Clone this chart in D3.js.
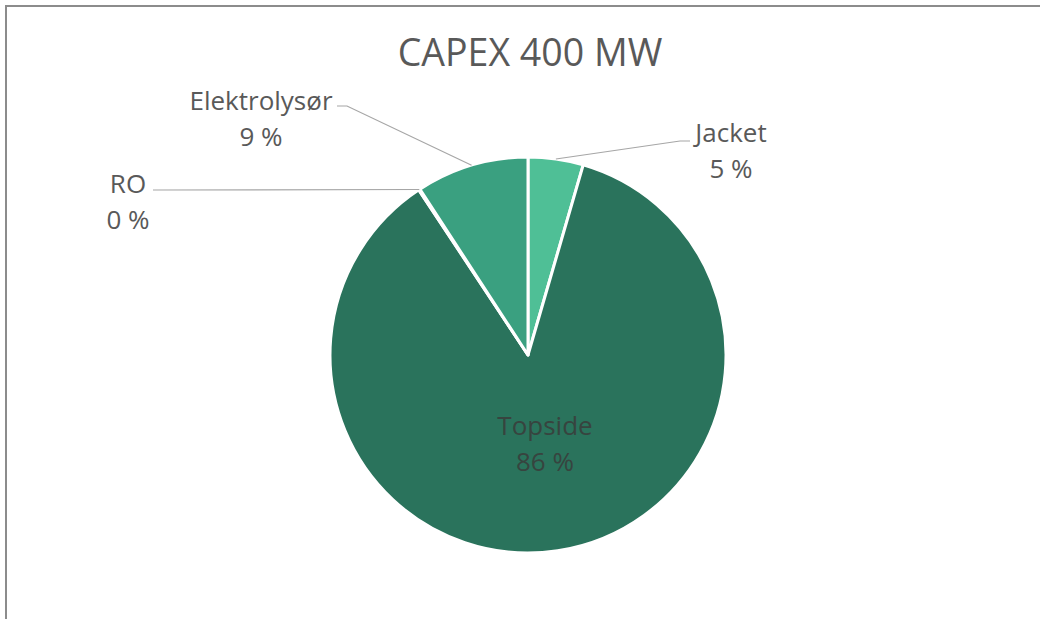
<!DOCTYPE html>
<html>
<head>
<meta charset="utf-8">
<script src="https://cdn.jsdelivr.net/npm/d3@7"></script>
<style>
  html, body { margin: 0; padding: 0; background: #fff; }
  svg { display: block; }
  text { font-family: "Open Sans", "Noto Sans", sans-serif; }
</style>
</head>
<body>
<svg id="chart" width="1040" height="619"></svg>
<script>
// ---- data ----
const title = "CAPEX 400 MW";
const categories = ["Jacket", "Topside", "RO", "Elektrolysør"];
const values = [4.5, 86.2, 0.1, 9.2];
const colors = ["#4fbf96", "#2a735c", "#1f5a47", "#3aa080"];

// ---- layout ----
const W = 1040, H = 619;
const cx = 528, cy = 355, R = 198;
const svg = d3.select("#chart");

svg.append("rect").attr("width", W).attr("height", H).attr("fill", "#fff");
// frame (only top and left edges visible in the crop)
svg.append("path")
  .attr("d", `M6,${H + 2} L6,6 L${W + 2},6`)
  .attr("fill", "none").attr("stroke", "#8c8c8c").attr("stroke-width", 2);

svg.append("text")
  .attr("x", 530).attr("y", 66)
  .attr("text-anchor", "middle")
  .attr("font-size", 37.5)
  .attr("fill", "#595959")
  .text(title);

const total = d3.sum(values);
const pie = d3.pie().sort(null).value(d => d.v).startAngle(0).endAngle(2 * Math.PI);
const data = categories.map((c, i) => ({ c, v: values[i], col: colors[i] }));
const arcs = pie(data);
const arc = d3.arc().innerRadius(0).outerRadius(R);

const g = svg.append("g").attr("transform", `translate(${cx},${cy})`);
g.selectAll("path.slice").data(arcs).join("path")
  .attr("class", "slice")
  .attr("d", arc)
  .attr("fill", d => d.data.col)
  .attr("stroke", "#fff")
  .attr("stroke-width", 3)
  .attr("stroke-linejoin", "round");

// label layout (text positions), keyed by category
const labelPos = {
  "Jacket":       { x: 731, y: 142, inside: false, hook: [[690, 141], [680, 141]] },
  "Topside":      { x: 545, y: 435, inside: true },
  "RO":           { x: 128, y: 193, inside: false, hook: [[153, 190]] },
  "Elektrolysør": { x: 261, y: 110, inside: false, hook: [[337, 106], [347, 106]] }
};
const lineGap = 36;

function edgePoint(d) {
  const a = (d.startAngle + d.endAngle) / 2;
  return [cx + R * Math.sin(a), cy - R * Math.cos(a)];
}

arcs.forEach(d => {
  const lp = labelPos[d.data.c];
  const pct = Math.round(d.data.v / total * 100) + " %";
  if (!lp.inside) {
    const pts = lp.hook.concat([edgePoint(d)]);
    svg.append("path")
      .attr("d", d3.line()(pts))
      .attr("fill", "none")
      .attr("stroke", "#a6a6a6")
      .attr("stroke-width", 1.2);
  }
  const t = svg.append("text")
    .attr("text-anchor", "middle")
    .attr("font-size", 26)
    .attr("fill", lp.inside ? "#37443f" : "#595959");
  t.append("tspan").attr("x", lp.x).attr("y", lp.y).text(d.data.c);
  t.append("tspan").attr("x", lp.x).attr("y", lp.y + lineGap).text(pct);
});
</script>
</body>
</html>
